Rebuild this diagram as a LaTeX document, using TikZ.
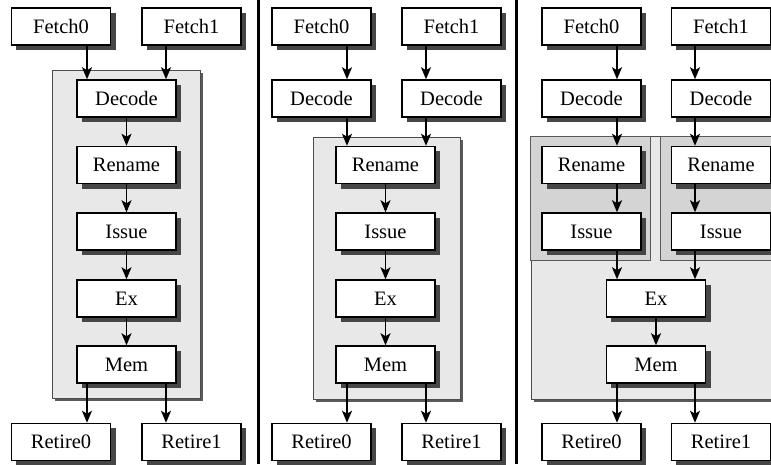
\documentclass[tikz,border=0pt]{standalone}
\usepackage{fontspec}
\setmainfont{Liberation Serif}
\usetikzlibrary{arrows.meta}
\definecolor{shadegray}{RGB}{70,70,70}
\definecolor{groupgray}{RGB}{90,90,90}
\tikzset{
  stage/.style={draw=black, line width=1.5pt, fill=white,
    minimum width=99pt, minimum height=37pt, inner sep=0pt,
    font=\fontsize{20.5}{24}\selectfont},
  boxshade/.style={fill=shadegray},
  group/.style={draw=black!70, line width=1pt, fill=black!9, inner sep=0pt},
  groupshade/.style={fill=groupgray},
  subgroup/.style={draw=black!65, line width=1pt, fill=black!17, inner sep=0pt},
  flow/.style={-{Stealth[length=12pt,width=10pt,inset=3pt]}, line width=1.7pt},
  divider/.style={line width=3pt}
}
% a pipeline stage with its offset shadow: name, x, y, label
\newcommand\stagebox[4]{%
  \fill[boxshade] (#2,#3) ++(-45,-14) rectangle ++(99.5,37.5);
  \node[stage] (#1) at (#2,#3) {#4};}
\begin{document}
\begin{tikzpicture}[x=1pt,y=-1pt]
\useasboundingbox (0,0) rectangle (771,464);
\fill[white] (0,0) rectangle (771,464);

% column positions for the two parallel arrow lanes
\coordinate (aL) at (87,0);   \coordinate (aR) at (166,0);
\coordinate (bL) at (347,0);  \coordinate (bR) at (426,0);
\coordinate (cL) at (617,0);  \coordinate (cR) at (695,0);

% dividers between the three organisations
\coordinate (d1t) at (258,0);   \coordinate (d1b) at (258,464);
\coordinate (d2t) at (516,0);   \coordinate (d2b) at (516,464);
\draw[divider] (d1t) -- (d1b);
\draw[divider] (d2t) -- (d2b);

% ---------- shared pipeline from Decode onwards ----------
\fill[groupshade] (55,73) rectangle (203,401);
\node[group, minimum width=148pt, minimum height=328pt] (acore) at (126,234) {};
\stagebox{af0}{61}{26.5}{Fetch0}
\stagebox{af1}{191.5}{26.5}{Fetch1}
\stagebox{adec}{126.5}{98.5}{Decode}
\stagebox{aren}{126.5}{165}{Rename}
\stagebox{aiss}{126.5}{231.5}{Issue}
\stagebox{aex}{126.5}{298.5}{Ex}
\stagebox{amem}{126.5}{364.5}{Mem}
\stagebox{ar0}{61}{442}{Retire0}
\stagebox{ar1}{191.5}{442}{Retire1}

\draw[flow] (af0.south -| aL) -- (adec.north -| aL);
\draw[flow] (af1.south -| aR) -- (adec.north -| aR);
\draw[flow] (adec) -- (aren);
\draw[flow] (aren) -- (aiss);
\draw[flow] (aiss) -- (aex);
\draw[flow] (aex) -- (amem);
\draw[flow] (amem.south -| aL) -- (ar0.north -| aL);
\draw[flow] (amem.south -| aR) -- (ar1.north -| aR);

% ---------- shared pipeline from Rename onwards ----------
\fill[groupshade] (316,140) rectangle (463,402);
\node[group, minimum width=147pt, minimum height=262pt] (bcore) at (386.5,268) {};
\stagebox{bf0}{321.5}{26.5}{Fetch0}
\stagebox{bf1}{451.5}{26.5}{Fetch1}
\stagebox{bd0}{321.5}{98.5}{Decode}
\stagebox{bd1}{451.5}{98.5}{Decode}
\stagebox{bren}{385.5}{165}{Rename}
\stagebox{biss}{385.5}{231.5}{Issue}
\stagebox{bex}{385.5}{298.5}{Ex}
\stagebox{bmem}{385.5}{364.5}{Mem}
\stagebox{br0}{321.5}{442}{Retire0}
\stagebox{br1}{451.5}{442}{Retire1}

\draw[flow] (bf0.south -| bL) -- (bd0.north -| bL);
\draw[flow] (bf1.south -| bR) -- (bd1.north -| bR);
\draw[flow] (bd0.south -| bL) -- (bren.north -| bL);
\draw[flow] (bd1.south -| bR) -- (bren.north -| bR);
\draw[flow] (bren) -- (biss);
\draw[flow] (biss) -- (bex);
\draw[flow] (bex) -- (bmem);
\draw[flow] (bmem.south -| bL) -- (br0.north -| bL);
\draw[flow] (bmem.south -| bR) -- (br1.north -| bR);

% ---------- shared pipeline from Ex onwards (runs past the right edge) ----------
\fill[groupshade] (534,139) rectangle (771,402);
\node[group, minimum width=245pt, minimum height=263pt] (ccore) at (653.5,267.5) {};
\node[subgroup, minimum width=120pt, minimum height=124pt] (csub0) at (590,198) {};
\node[subgroup, minimum width=120pt, minimum height=124pt] (csub1) at (720,198) {};
\stagebox{cf0}{591.5}{26.5}{Fetch0}
\stagebox{cf1}{721}{26.5}{Fetch1}
\stagebox{cd0}{591.5}{98.5}{Decode}
\stagebox{cd1}{721}{98.5}{Decode}
\stagebox{cren0}{591.5}{165}{Rename}
\stagebox{cren1}{721}{165}{Rename}
\stagebox{ciss0}{591.5}{231.5}{Issue}
\stagebox{ciss1}{721}{231.5}{Issue}
\stagebox{cex}{656}{298.5}{Ex}
\stagebox{cmem}{656}{364.5}{Mem}
\stagebox{cr0}{591.5}{442}{Retire0}
\stagebox{cr1}{721}{442}{Retire1}

\draw[flow] (cf0.south -| cL) -- (cd0.north -| cL);
\draw[flow] (cf1.south -| cR) -- (cd1.north -| cR);
\draw[flow] (cd0.south -| cL) -- (cren0.north -| cL);
\draw[flow] (cd1.south -| cR) -- (cren1.north -| cR);
\draw[flow] (cren0.south -| cL) -- (ciss0.north -| cL);
\draw[flow] (cren1.south -| cR) -- (ciss1.north -| cR);
\draw[flow] (ciss0.south -| cL) -- (cex.north -| cL);
\draw[flow] (ciss1.south -| cR) -- (cex.north -| cR);
\draw[flow] (cex) -- (cmem);
\draw[flow] (cmem.south -| cL) -- (cr0.north -| cL);
\draw[flow] (cmem.south -| cR) -- (cr1.north -| cR);
\end{tikzpicture}
\end{document}
